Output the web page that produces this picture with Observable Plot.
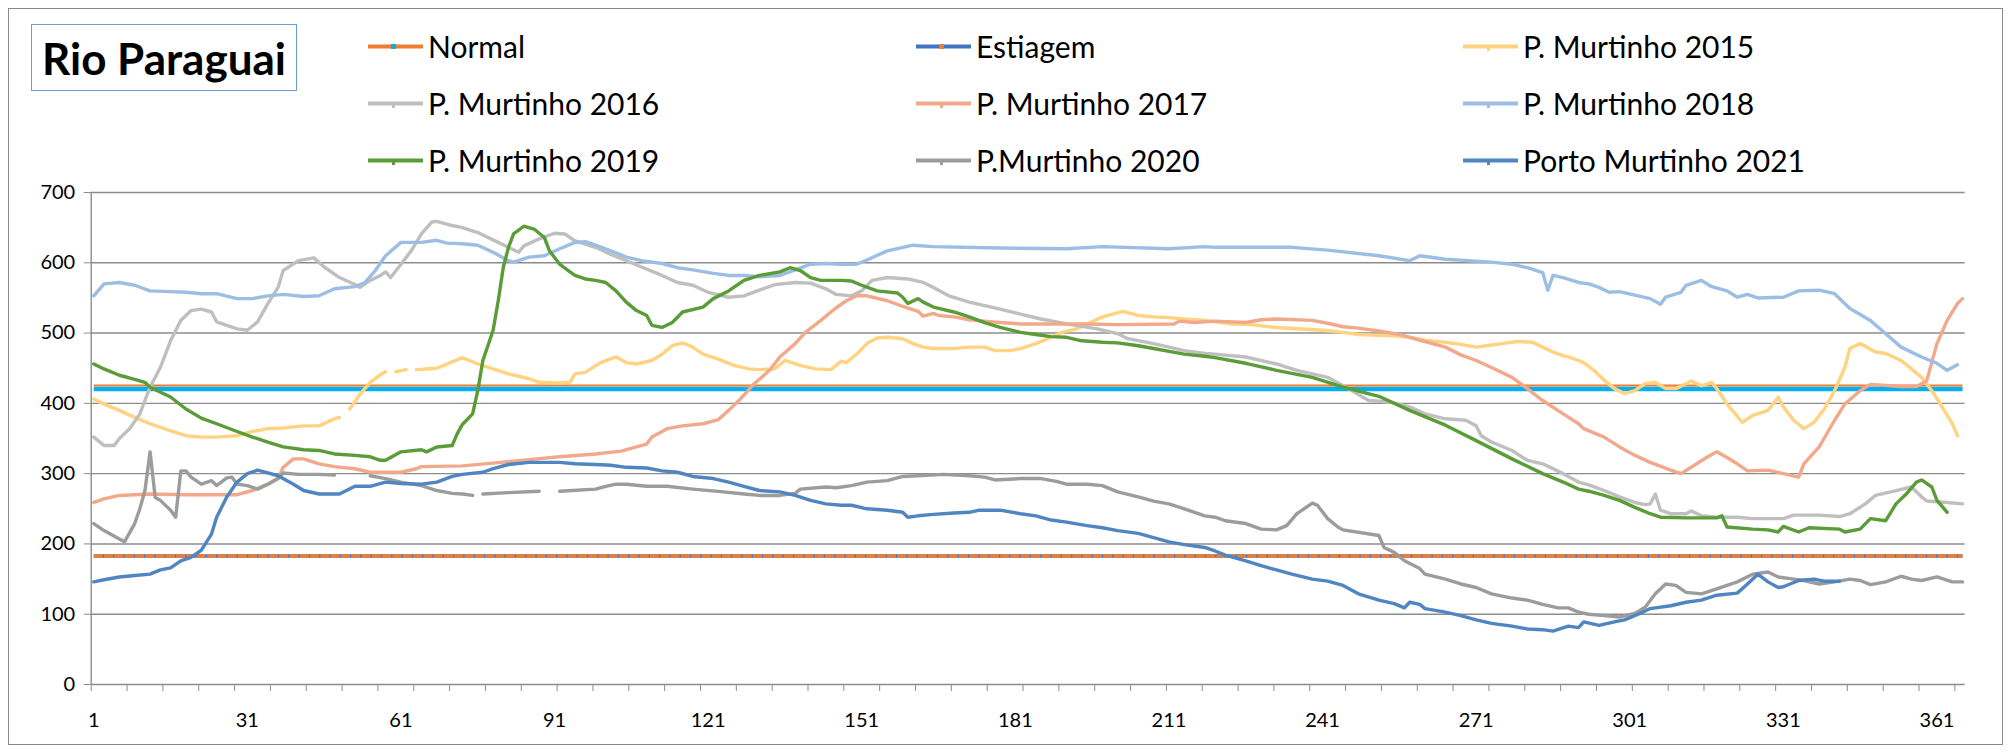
<!DOCTYPE html>
<html><head><meta charset="utf-8">
<script src="https://cdn.jsdelivr.net/npm/d3@7"></script>
<script src="https://cdn.jsdelivr.net/npm/@observablehq/plot@0.6"></script>
<style>
html,body{margin:0;padding:0;background:#fff;}
#wrap{position:relative;width:2012px;height:755px;overflow:hidden;font-family:Lato, sans-serif;background:#fff;}
#chart{position:absolute;left:0;top:0;}
#frame{position:absolute;left:8px;top:8px;width:1995px;height:737px;border:1.5px solid #8a8a8a;box-sizing:border-box;pointer-events:none;}
#title{position:absolute;left:31px;top:24px;width:266px;height:67px;border:1.5px solid #6a9fd6;box-sizing:border-box;display:flex;align-items:center;justify-content:center;font-weight:700;font-size:44px;color:#000;background:#fff;}
.leg{position:absolute;display:flex;align-items:center;height:40px;font-size:30px;color:#000;white-space:nowrap;}
.leg svg{display:block;margin-right:5px;}
</style></head>
<body><div id="wrap"><div id="chart"></div><div id="frame"></div><div id="title">Rio Paraguai</div></div>
<script>
// ---------- data ----------
const seriesNames = ["Normal","Estiagem","P. Murtinho 2015","P. Murtinho 2016","P. Murtinho 2017","P. Murtinho 2018","P. Murtinho 2019","P.Murtinho 2020","Porto Murtinho 2021"];
const xLabels = [1,31,61,91,121,151,181,211,241,271,301,331,361];
const yTicks = [0,100,200,300,400,500,600,700];
const normalLevel = 422;
const estiagemLevel = 183;

const pm2015 = [[1,406],[3,399],[6,390],[9,380],[12,371],[16,361],[19,354],[22,352],[25,352],[29,354],[32,360],[35,364],[38,365],[42,368],[45,368],[48,378],[49,380],[50,null],[51,392],[53,413],[55,430],[57,441],[58,445],[59,null],[60,445],[62,448],[63,null],[64,448],[68,450],[71,459],[73,465],[76,456],[79,449],[82,442],[86,435],[88,430],[92,429],[94,430],[95,442],[97,444],[100,458],[103,466],[105,458],[107,456],[110,461],[112,470],[114,482],[116,486],[118,480],[120,470],[123,463],[126,454],[129,449],[131,448],[134,449],[136,461],[139,454],[142,449],[145,448],[147,460],[148,458],[150,470],[152,485],[154,493],[156,494],[159,492],[161,485],[163,480],[165,478],[169,478],[172,480],[175,480],[177,475],[180,475],[182,478],[185,485],[188,494],[190,501],[193,506],[195,513],[198,523],[202,531],[205,525],[208,523],[211,522],[214,520],[218,518],[220,516],[223,513],[227,512],[232,508],[241,504],[245,501],[248,498],[255,496],[258,494],[261,490],[265,487],[268,484],[271,480],[273,482],[276,485],[279,488],[282,487],[284,480],[286,473],[288,468],[289,466],[291,461],[292,458],[294,447],[296,433],[298,421],[300,414],[302,418],[304,428],[306,430],[308,421],[310,421],[312,428],[313,432],[315,425],[317,430],[318,421],[320,399],[323,373],[325,383],[328,390],[330,409],[331,395],[333,376],[335,364],[337,373],[339,392],[341,418],[343,451],[344,478],[346,485],[349,473],[351,471],[354,461],[356,449],[358,437],[360,418],[362,395],[364,371],[365,354]];

const pm2016 = [[1,352],[3,340],[5,340],[6,350],[8,364],[10,385],[12,423],[14,451],[16,489],[18,518],[20,532],[22,534],[24,530],[25,516],[29,506],[31,504],[33,516],[35,542],[37,565],[38,589],[41,603],[44,607],[46,594],[49,579],[52,569],[53,565],[55,575],[57,582],[58,587],[59,579],[61,598],[63,617],[65,641],[67,658],[68,659],[71,653],[73,650],[76,643],[80,629],[84,615],[85,624],[88,634],[91,642],[93,641],[95,631],[99,622],[102,612],[105,603],[108,594],[112,582],[115,572],[118,568],[121,558],[125,551],[128,553],[131,561],[134,569],[138,572],[141,571],[144,563],[146,555],[149,553],[151,560],[153,575],[156,579],[160,577],[163,572],[165,565],[168,553],[172,544],[175,539],[178,534],[182,527],[186,520],[191,513],[197,506],[201,499],[203,492],[208,485],[211,480],[214,475],[218,471],[220,470],[226,466],[232,456],[236,447],[242,437],[246,421],[250,404],[254,402],[258,395],[261,385],[265,378],[269,376],[271,368],[272,354],[274,345],[278,333],[281,319],[284,314],[288,300],[291,288],[293,284],[296,276],[299,267],[302,259],[304,256],[305,257],[306,271],[307,248],[309,243],[312,243],[313,247],[315,240],[318,238],[322,238],[325,236],[331,236],[333,241],[338,241],[342,239],[344,243],[347,257],[349,269],[352,274],[356,281],[358,267],[359,261],[363,259],[366,257]];

const pm2017 = [[1,259],[3,264],[6,269],[9,270],[12,271],[19,270],[25,270],[29,270],[32,276],[35,285],[37,293],[38,309],[40,321],[42,321],[45,314],[48,310],[52,307],[55,302],[61,302],[64,307],[65,310],[73,311],[79,315],[86,320],[92,324],[99,328],[104,332],[107,338],[109,342],[110,352],[113,364],[116,368],[120,371],[123,377],[125,390],[127,404],[130,428],[133,447],[135,466],[138,485],[140,501],[143,518],[146,536],[148,546],[150,553],[152,553],[156,546],[159,538],[162,531],[163,524],[165,528],[166,525],[169,523],[172,519],[175,517],[178,515],[182,513],[188,513],[195,513],[201,512],[212,513],[213,517],[216,515],[220,517],[226,515],[229,519],[232,520],[239,518],[242,514],[245,509],[248,507],[252,503],[256,498],[258,494],[261,488],[265,480],[268,469],[271,461],[274,451],[278,437],[281,421],[284,404],[288,385],[291,371],[292,364],[296,352],[299,338],[302,326],[305,316],[309,305],[311,300],[313,309],[316,323],[318,331],[320,323],[322,314],[324,304],[328,305],[331,300],[334,295],[335,314],[338,338],[341,376],[343,399],[346,418],[348,427],[354,424],[357,424],[359,432],[361,485],[363,518],[365,542],[366,549]];

const pm2018 = [[1,553],[3,570],[6,572],[9,568],[12,560],[16,559],[19,558],[22,556],[25,556],[29,549],[32,549],[35,553],[38,555],[42,552],[45,553],[48,563],[52,566],[54,572],[56,589],[58,610],[61,629],[65,629],[68,632],[70,628],[73,627],[76,625],[79,615],[82,603],[83,601],[86,608],[89,610],[92,620],[95,629],[97,630],[99,625],[102,617],[105,608],[108,603],[112,599],[115,593],[118,590],[122,585],[125,582],[128,582],[131,580],[135,582],[138,590],[141,598],[144,599],[147,598],[150,598],[152,604],[156,617],[161,625],[165,623],[178,621],[191,620],[198,623],[211,620],[218,623],[220,622],[235,622],[242,618],[252,610],[258,603],[260,610],[265,605],[274,601],[278,598],[281,593],[284,586],[285,561],[286,582],[288,579],[291,572],[293,570],[295,565],[297,558],[299,559],[302,554],[305,549],[307,541],[308,551],[311,558],[312,568],[315,575],[317,566],[320,560],[322,551],[324,555],[326,550],[331,551],[334,560],[338,561],[341,556],[344,535],[348,518],[351,499],[354,480],[358,466],[361,457],[363,447],[364,451],[365,455]];

const pm2019 = [[1,456],[3,449],[6,440],[9,434],[11,430],[12,423],[16,409],[19,392],[22,379],[25,371],[29,360],[32,352],[35,345],[38,338],[42,334],[45,333],[48,328],[52,326],[55,324],[57,319],[58,319],[61,331],[65,334],[66,331],[68,338],[71,340],[72,357],[73,370],[75,385],[76,418],[77,461],[79,504],[80,546],[81,594],[82,622],[83,641],[85,652],[87,648],[89,636],[90,617],[92,598],[94,587],[95,582],[97,577],[99,575],[101,572],[103,560],[105,544],[107,532],[109,525],[110,511],[112,508],[114,515],[116,530],[120,537],[122,549],[125,560],[128,575],[131,582],[135,587],[137,593],[139,589],[141,579],[143,575],[147,575],[149,574],[151,568],[154,560],[158,557],[159,551],[160,542],[162,549],[163,544],[165,537],[169,530],[172,523],[175,515],[178,508],[182,501],[185,498],[188,495],[191,494],[194,489],[198,487],[201,486],[205,482],[208,478],[211,474],[214,470],[218,467],[220,465],[226,457],[232,447],[239,437],[245,423],[252,410],[258,390],[265,369],[271,347],[278,321],[284,300],[288,288],[291,278],[293,275],[296,269],[299,262],[302,252],[305,243],[307,238],[312,237],[318,237],[319,240],[320,224],[325,221],[328,220],[330,217],[331,225],[334,217],[336,223],[342,221],[343,217],[346,221],[348,236],[351,233],[353,257],[355,271],[357,288],[358,291],[360,281],[361,262],[363,245]];

const pm2020 = [[1,229],[3,219],[6,207],[7,203],[9,229],[10,250],[11,276],[12,331],[13,266],[14,262],[16,248],[17,238],[18,304],[19,304],[20,295],[22,285],[24,290],[25,283],[27,294],[28,295],[29,285],[31,283],[33,278],[35,285],[37,293],[38,301],[41,299],[45,299],[48,298],[50,null],[55,297],[58,293],[61,288],[65,283],[68,276],[71,272],[73,271],[75,269],[76,null],[77,271],[82,273],[88,275],[90,null],[92,275],[99,278],[101,282],[103,285],[105,285],[109,282],[113,282],[118,278],[124,274],[128,271],[131,269],[135,269],[138,272],[139,278],[144,281],[146,280],[149,283],[152,288],[156,290],[159,296],[162,297],[167,299],[172,297],[175,295],[177,291],[182,293],[186,293],[189,289],[191,285],[195,285],[198,283],[201,274],[205,267],[208,261],[211,257],[214,250],[218,240],[220,238],[222,233],[226,229],[229,221],[232,220],[234,226],[236,243],[239,258],[240,255],[242,236],[244,224],[245,220],[252,212],[253,195],[255,188],[257,176],[260,165],[261,157],[265,150],[268,143],[271,138],[274,129],[278,123],[281,120],[284,114],[287,109],[289,109],[291,103],[293,100],[296,98],[299,96],[302,101],[304,110],[306,129],[308,143],[310,141],[312,131],[315,129],[318,136],[322,146],[325,157],[328,160],[330,153],[333,150],[335,148],[338,143],[341,146],[344,150],[346,148],[348,142],[351,146],[354,154],[356,150],[358,148],[361,153],[364,146],[366,146]];

const pm2021 = [[1,146],[3,149],[6,153],[9,155],[12,157],[14,163],[16,166],[18,176],[20,181],[22,191],[24,214],[25,238],[27,267],[29,288],[31,300],[33,305],[35,301],[37,297],[40,285],[42,276],[45,271],[49,271],[52,282],[55,282],[58,288],[61,286],[65,285],[68,288],[71,296],[73,299],[77,302],[79,307],[82,313],[86,316],[92,316],[95,314],[99,313],[102,312],[105,309],[109,308],[112,304],[115,302],[118,296],[122,293],[125,288],[128,282],[131,276],[135,274],[138,269],[141,262],[144,257],[147,255],[149,255],[152,250],[156,248],[159,245],[160,238],[162,240],[165,242],[169,244],[172,245],[174,248],[178,248],[182,243],[185,240],[188,234],[191,231],[195,226],[198,223],[201,219],[205,215],[208,209],[211,203],[214,199],[218,195],[220,190],[222,184],[226,176],[229,169],[232,163],[235,157],[239,150],[242,147],[245,141],[248,129],[252,120],[255,115],[257,109],[258,117],[260,114],[261,108],[265,103],[268,98],[271,92],[274,87],[278,83],[281,79],[284,78],[286,76],[289,83],[291,81],[292,89],[295,84],[298,89],[300,92],[303,101],[305,108],[309,112],[312,117],[315,120],[318,127],[322,130],[324,143],[326,157],[328,146],[330,138],[331,139],[334,148],[337,150],[339,147],[342,147]];

// ---------- styles ----------
const C = {
  orange: "#ed7d31", cyan: "#00b0f0", blue: "#4472c4",
  y2015: "#ffd37f", y2016: "#bfbfbf", y2017: "#f2a98b", y2018: "#9cbee4",
  y2019: "#5a9c38", y2020: "#9c9c9c", y2021: "#4f86c1", grid: "#8c8c8c"
};
const yearSeries = [
  [pm2015, C.y2015], [pm2016, C.y2016], [pm2017, C.y2017], [pm2018, C.y2018],
  [pm2019, C.y2019], [pm2020, C.y2020], [pm2021, C.y2021]
];
const toRows = arr => arr.map(([d, v]) => ({d, v}));
const xTickMarks = d3.range(0.5, 366, 7);
const fullSpan = [1, 366];

const marks = [
  Plot.gridY(yTicks.filter(t => t > 0), {stroke: C.grid, strokeOpacity: 1, strokeWidth: 1.4}),
  Plot.ruleY([0], {stroke: C.grid, strokeWidth: 1.4}),
  Plot.ruleX([0.5], {y1: 0, y2: 700, stroke: C.grid, strokeWidth: 1.4}),
  Plot.axisY(yTicks, {label: null, tickSize: 7, tickPadding: 9, stroke: C.grid, fill: "#000", fontSize: 20}),
  Plot.axisX(xTickMarks, {label: null, tickSize: 7, tickFormat: () => "", stroke: C.grid}),
  Plot.axisX(xLabels, {label: null, tickSize: 0, tickPadding: 28, fill: "#000", fontSize: 20}),
  // Normal: orange line, cyan markers
  Plot.lineY(fullSpan, {x: d => d, y: () => normalLevel, stroke: C.cyan, strokeWidth: 4.5, dy: 1, strokeLinecap: "butt"}),
  Plot.lineY(fullSpan, {x: d => d, y: () => normalLevel, stroke: C.orange, strokeWidth: 2, dy: -2.3, strokeLinecap: "butt"}),
  // Estiagem: blue line, orange markers
  Plot.lineY(fullSpan, {x: d => d, y: () => estiagemLevel, stroke: C.blue, strokeWidth: 3.5, strokeLinecap: "butt"}),
  Plot.lineY(fullSpan, {x: d => d, y: () => estiagemLevel, stroke: C.orange, strokeWidth: 3.5, strokeDasharray: "9 1.3", strokeLinecap: "butt"}),
  ...yearSeries.map(([arr, col]) => Plot.line(toRows(arr), {x: "d", y: "v", stroke: col, strokeWidth: 3.4}))
];

const chart = Plot.plot({
  width: 2012, height: 755,
  marginLeft: 90.7, marginRight: 47.4, marginTop: 192, marginBottom: 71,
  x: {domain: [0.5, 366.5], label: null},
  y: {domain: [0, 700], label: null},
  style: {fontFamily: "Lato, sans-serif", fontSize: "20px", background: "transparent", color: "#000"},
  marks
});
document.getElementById("chart").appendChild(chart);

// ---------- legend ----------
const legendItems = [
  {name: seriesNames[0], line: C.orange, mark: C.cyan, big: true},
  {name: seriesNames[1], line: C.blue, mark: C.orange, big: true},
  {name: seriesNames[2], line: C.y2015, mark: C.y2015},
  {name: seriesNames[3], line: C.y2016, mark: C.y2016},
  {name: seriesNames[4], line: C.y2017, mark: C.y2017},
  {name: seriesNames[5], line: C.y2018, mark: C.y2018},
  {name: seriesNames[6], line: C.y2019, mark: C.y2019},
  {name: seriesNames[7], line: C.y2020, mark: C.y2020},
  {name: seriesNames[8], line: C.y2021, mark: C.y2021}
];
const colX = [368, 916, 1463];
const rowY = [46, 103, 160];
const wrap = document.getElementById("wrap");
legendItems.forEach((it, i) => {
  const div = document.createElement("div");
  div.className = "leg";
  div.style.left = colX[i % 3] + "px";
  div.style.top = (rowY[Math.floor(i / 3)] - 20) + "px";
  const m = it.big
    ? `<rect x="23" y="3" width="5" height="5" fill="${it.mark}"/>`
    : `<rect x="24" y="6" width="3" height="4" fill="${it.mark}"/>`;
  div.innerHTML = `<svg width="55" height="11"><rect x="0" y="3.5" width="55" height="4" fill="${it.line}"/>${m}</svg><span>${it.name}</span>`;
  wrap.appendChild(div);
});
</script>
</body></html>
